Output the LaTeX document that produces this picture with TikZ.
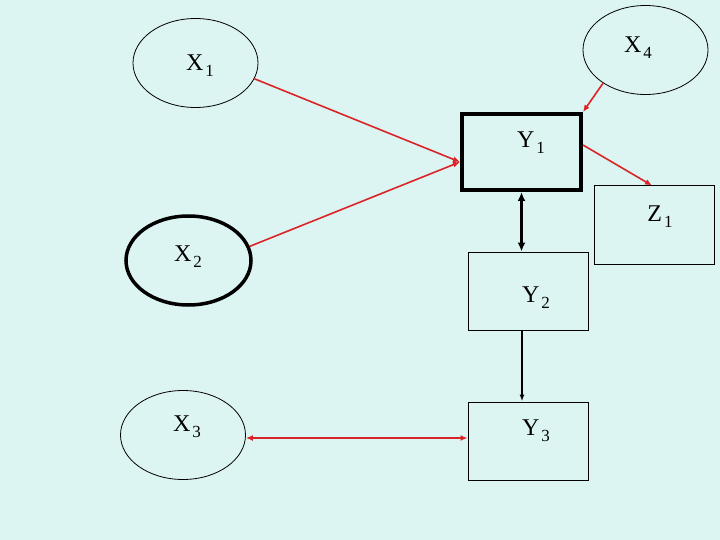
\documentclass[tikz,border=0pt]{standalone}
\usepackage{fontspec}
\setmainfont{Liberation Serif}
\usetikzlibrary{shapes.geometric,arrows.meta}
\definecolor{bgc}{RGB}{221,245,242}
\definecolor{arrred}{RGB}{218,36,40}
\newcommand\mysub[1]{\kern2pt\raisebox{-6pt}{\fontsize{17}{17}\selectfont #1}}
\tikzset{
  ell/.style={ellipse,draw=black,line width=0.8pt,minimum width=125pt,minimum height=89pt,inner sep=0pt},
  thickell/.style={ell,line width=3.5pt},
  boxn/.style={rectangle,draw=black,line width=1pt,minimum width=120pt,minimum height=78pt,inner sep=0pt},
  thickbox/.style={boxn,line width=4pt,minimum width=119pt,minimum height=76pt},
  lbl/.style={font=\fontsize{24}{28}\selectfont,inner sep=0pt},
  redarr/.style={draw=arrred,line width=1.6pt,-{Latex[length=7pt,width=6pt]}},
  redbi/.style={draw=arrred,line width=1.6pt,{Latex[length=7pt,width=6pt]}-{Latex[length=7pt,width=6pt]}},
  blkbi/.style={draw=black,line width=3pt,{Latex[length=9pt,width=8pt]}-{Latex[length=9pt,width=8pt]}},
  blkarr/.style={draw=black,line width=1.4pt,-{Latex[length=7pt,width=5pt]}}
}
\begin{document}
\begin{tikzpicture}[x=1pt,y=-1pt]
\fill[bgc] (0,0) rectangle (720,540);
\useasboundingbox (0,0) rectangle (720,540);
% shapes
\node[ell] (X1) at (195.5,63) {};
\node[ell] (X4) at (645.5,50) {};
\node[thickell] (X2) at (188.5,260.5) {};
\node[ell] (X3) at (183,435) {};
\node[thickbox] (Y1) at (521.5,152) {};
\node[boxn] (Z1) at (654,225) {};
\node[boxn] (Y2) at (528,291) {};
\node[boxn] (Y3) at (528,441) {};
% labels
\node[lbl] (tX1) at (200,66) {X\mysub{1}};
\node[lbl] (tX4) at (638,48) {X\mysub{4}};
\node[lbl] (tX2) at (188,257) {X\mysub{2}};
\node[lbl] (tX3) at (187,427) {X\mysub{3}};
\node[lbl] (tY1) at (531,143) {Y\mysub{1}};
\node[lbl] (tZ1) at (660,217) {Z\mysub{1}};
\node[lbl] (tY2) at (536,298) {Y\mysub{2}};
\node[lbl] (tY3) at (536,431) {Y\mysub{3}};
% connectors
\draw[redarr] (X1.-15) -- ([yshift=-10pt]Y1.west);
\draw[redarr] (X2.13) -- ([yshift=-10pt]Y1.west);
\draw[redarr] (X4.-142) -- (Y1.north east);
\draw[redarr] ([yshift=7pt]Y1.east) -- ([xshift=-2pt]Z1.north);
\draw[blkbi] (Y1.south) -- (Y1.south |- Y2.north);
\draw[blkarr] ([xshift=-6pt]Y2.south) -- ([xshift=-6pt]Y3.north);
\draw[redbi] ([yshift=-3pt]X3.east) -- ([yshift=-3pt]X3.east -| Y3.west);
\end{tikzpicture}
\end{document}
